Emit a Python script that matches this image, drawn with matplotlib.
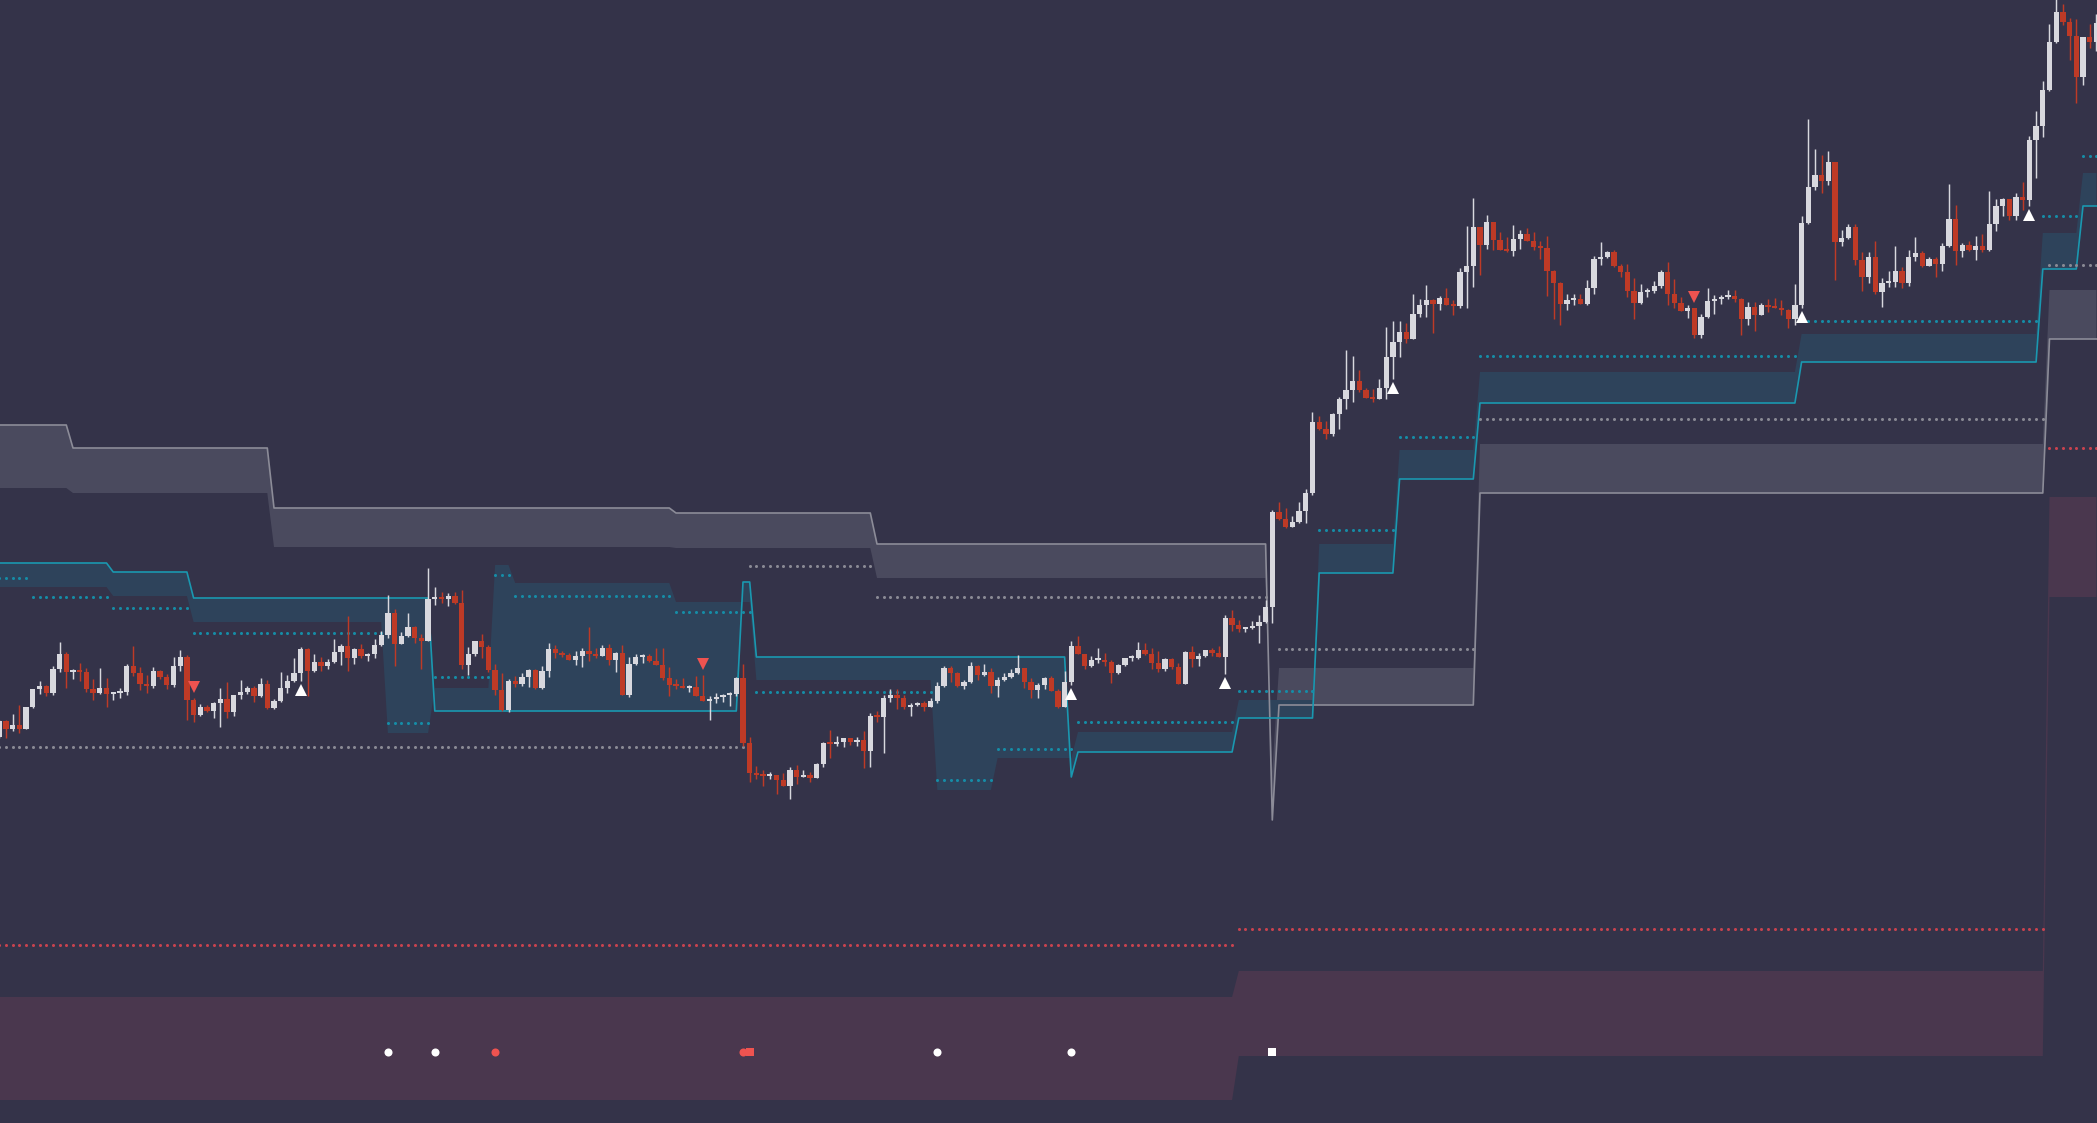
import numpy as np
import matplotlib.pyplot as plt

# candle data (open of each candle = previous close)
open0 = 38.6
close_ = [40.2, 39.4, 39.8, 39.4, 41.6, 43.4, 43.7, 43.0, 45.4, 46.9,
          45.1, 45.3, 45.1, 43.4, 43.0, 43.5, 42.9, 43.0, 43.1, 45.7,
          45.0, 43.9, 43.7, 45.2, 44.6, 43.8, 45.7, 46.6, 42.3, 40.8,
          41.6, 41.2, 42.0, 42.4, 41.1, 42.8, 43.1, 43.5, 42.7, 43.9,
          41.5, 42.2, 43.5, 44.2, 45.0, 47.4, 45.2, 46.1, 45.7, 46.1,
          47.1, 47.7, 46.5, 47.4, 46.7, 46.9, 47.8, 48.8, 51.0, 47.9,
          48.7, 49.6, 48.5, 48.2, 52.4, 52.5, 52.4, 52.7, 52.0, 45.8,
          46.9, 48.2, 47.6, 45.3, 43.3, 41.3, 44.2, 43.9, 44.6, 45.3,
          43.5, 45.2, 47.4, 47.0, 46.8, 46.3, 46.7, 47.2, 46.9, 46.7,
          47.5, 46.3, 47.0, 42.8, 45.9, 46.6, 46.7, 46.2, 45.8, 44.5,
          43.8, 43.7, 43.5, 43.6, 42.7, 42.2, 42.4, 42.6, 42.8, 42.9,
          44.5, 38.0, 35.0, 34.8, 34.7, 34.8, 34.3, 33.7, 35.3, 34.6,
          34.8, 34.5, 35.9, 38.0, 37.9, 38.1, 38.5, 38.1, 38.3, 37.2,
          40.7, 40.6, 42.5, 42.8, 42.5, 41.6, 41.8, 42.0, 41.6, 42.2,
          43.7, 45.5, 45.0, 43.7, 44.1, 45.7, 44.8, 45.1, 43.7, 44.3,
          44.6, 45.0, 45.5, 44.1, 43.3, 43.8, 44.5, 43.2, 41.6, 44.1,
          47.7, 46.9, 45.7, 46.3, 46.3, 46.1, 45.0, 45.8, 46.5, 46.5,
          47.3, 46.9, 46.0, 45.4, 46.4, 45.6, 43.9, 47.1, 46.4, 46.7,
          47.3, 47.0, 46.6, 50.5, 49.8, 49.4, 49.5, 49.7, 50.1, 51.6,
          61.1, 60.4, 59.6, 60.1, 61.2, 63.0, 70.1, 69.4, 68.9, 70.9,
          72.4, 73.3, 74.2, 73.3, 72.5, 72.4, 73.5, 76.6, 78.1, 79.1,
          78.4, 80.9, 81.8, 82.3, 81.9, 82.5, 81.8, 81.7, 85.1, 85.7,
          89.6, 87.8, 90.1, 88.3, 87.3, 87.2, 88.4, 88.9, 88.2, 87.6,
          87.5, 85.2, 84.0, 81.9, 82.3, 82.4, 81.9, 83.5, 86.4, 86.6,
          87.1, 85.7, 85.1, 83.2, 82.0, 83.1, 83.2, 83.7, 85.1, 82.9,
          82.0, 81.2, 81.5, 78.8, 80.6, 82.2, 82.4, 82.6, 82.7, 82.4,
          80.4, 81.6, 80.8, 81.8, 81.6, 81.5, 81.3, 80.4, 81.8, 90.0,
          93.6, 94.8, 94.2, 96.1, 88.1, 88.5, 89.6, 86.3, 84.6, 86.6,
          83.1, 84.0, 84.1, 85.2, 84.0, 86.6, 87.0, 85.7, 86.4, 85.9,
          87.7, 90.4, 87.2, 87.8, 87.3, 87.7, 87.3, 89.9, 91.7, 92.4,
          90.7, 92.6, 92.3, 98.3, 99.7, 103.3, 108.1, 111.1, 110.1, 108.7,
          104.6, 108.6, 108.1, 110.0]
high_ = [40.3, 40.3, 40.9, 41.8, 41.6, 43.4, 44.2, 43.8, 45.7, 48.1,
         47.1, 45.4, 46.0, 45.5, 44.4, 45.5, 44.5, 43.1, 43.5, 45.9,
         47.7, 45.6, 44.8, 45.6, 45.3, 44.9, 46.6, 47.3, 46.8, 42.5,
         41.9, 41.8, 42.1, 43.5, 44.1, 42.8, 44.3, 43.7, 43.7, 44.5,
         44.3, 42.4, 45.1, 44.8, 46.5, 47.6, 47.5, 46.9, 46.6, 46.4,
         48.4, 47.9, 50.7, 47.5, 47.9, 47.0, 48.4, 49.2, 52.8, 51.4,
         49.1, 51.0, 49.7, 48.9, 55.5, 53.6, 53.1, 53.0, 53.1, 53.3,
         47.6, 48.2, 48.9, 47.8, 45.9, 45.0, 44.4, 44.7, 45.0, 45.4,
         45.4, 45.7, 48.0, 47.8, 47.2, 47.0, 47.2, 47.5, 49.6, 47.5,
         47.8, 47.9, 47.1, 47.8, 46.6, 46.9, 46.9, 46.9, 47.5, 47.5,
         45.6, 44.4, 44.5, 43.8, 44.7, 44.8, 42.7, 43.0, 42.9, 43.1,
         44.6, 45.9, 38.6, 35.7, 35.3, 35.1, 34.8, 35.0, 35.6, 35.8,
         35.3, 35.1, 36.0, 38.1, 39.3, 38.7, 38.5, 38.5, 38.6, 39.2,
         41.0, 41.2, 42.8, 43.4, 43.4, 42.8, 42.0, 42.1, 42.2, 42.5,
         44.1, 45.7, 45.7, 45.1, 44.3, 46.1, 45.8, 45.9, 45.5, 44.6,
         45.0, 45.4, 46.8, 45.5, 44.5, 44.0, 44.6, 44.7, 43.4, 45.2,
         48.2, 48.7, 46.9, 46.7, 47.5, 47.0, 46.3, 45.9, 46.5, 46.8,
         48.1, 48.0, 47.5, 47.2, 46.5, 46.5, 46.0, 47.2, 47.7, 47.0,
         47.3, 47.5, 47.7, 50.8, 51.3, 50.3, 49.6, 50.2, 50.8, 52.3,
         61.3, 62.1, 61.5, 60.7, 62.1, 63.4, 71.1, 70.7, 70.2, 71.0,
         72.6, 77.3, 76.7, 75.3, 73.5, 73.4, 74.4, 79.6, 80.2, 80.2,
         80.0, 82.9, 82.4, 83.8, 82.4, 82.7, 83.5, 82.3, 85.5, 89.7,
         92.5, 89.6, 90.8, 90.1, 89.1, 88.6, 89.8, 89.3, 89.5, 89.1,
         88.2, 88.7, 85.3, 84.1, 82.9, 82.9, 82.9, 84.3, 86.7, 88.1,
         87.2, 87.3, 85.9, 85.9, 84.5, 83.9, 83.5, 84.2, 85.3, 86.1,
         84.4, 82.6, 81.8, 81.5, 80.9, 83.5, 82.8, 82.8, 83.3, 83.3,
         82.5, 82.1, 82.1, 82.0, 82.4, 82.5, 82.3, 81.4, 83.9, 90.7,
         100.4, 97.4, 96.8, 97.2, 96.1, 89.3, 89.9, 89.9, 87.1, 87.1,
         88.2, 84.5, 85.2, 87.7, 85.6, 87.3, 88.6, 87.2, 86.6, 86.6,
         88.0, 93.9, 91.8, 88.0, 88.2, 88.7, 88.9, 93.2, 92.4, 92.5,
         92.4, 93.0, 94.1, 98.7, 101.2, 104.2, 109.9, 112.4, 111.9, 110.5,
         110.4, 108.6, 109.9, 110.9]
low_ = [38.5, 38.5, 39.2, 39.0, 39.4, 41.5, 42.9, 42.7, 42.8, 45.1,
        43.5, 44.4, 44.2, 43.1, 42.3, 42.9, 41.6, 42.3, 42.5, 42.8,
        44.7, 43.3, 43.0, 43.5, 44.4, 43.4, 43.6, 45.2, 40.3, 40.1,
        40.7, 41.1, 40.5, 39.6, 40.5, 40.7, 42.4, 42.9, 42.1, 42.6,
        41.4, 41.4, 42.1, 43.0, 44.1, 44.2, 42.7, 45.1, 45.2, 45.4,
        46.0, 45.8, 45.2, 45.9, 46.5, 46.2, 46.5, 47.7, 48.5, 45.7,
        47.9, 48.6, 48.0, 45.4, 48.2, 51.8, 52.0, 51.7, 51.9, 45.4,
        44.8, 46.7, 46.5, 45.1, 42.8, 41.2, 41.1, 43.6, 43.7, 43.6,
        43.4, 43.4, 44.6, 46.5, 46.6, 46.3, 45.8, 45.6, 46.2, 46.5,
        46.7, 45.8, 45.1, 42.8, 42.6, 45.8, 46.0, 46.1, 45.8, 44.3,
        42.7, 43.4, 43.5, 43.1, 42.7, 42.2, 40.3, 42.0, 42.1, 41.7,
        42.7, 37.7, 34.1, 34.4, 33.7, 34.4, 32.9, 33.7, 32.4, 33.9,
        34.7, 34.1, 34.5, 35.6, 36.5, 37.7, 37.6, 37.8, 37.7, 35.5,
        35.6, 40.1, 37.0, 42.1, 41.4, 41.4, 40.7, 41.7, 41.2, 41.6,
        42.0, 43.6, 44.1, 43.6, 43.4, 44.0, 44.3, 44.7, 43.0, 42.6,
        44.2, 44.5, 44.9, 43.5, 42.5, 42.5, 43.4, 43.2, 41.5, 41.6,
        43.8, 46.9, 45.4, 45.6, 46.0, 45.7, 44.0, 44.9, 45.7, 46.2,
        46.4, 46.8, 45.4, 45.1, 45.2, 45.4, 43.9, 43.9, 45.6, 45.7,
        46.6, 46.7, 46.6, 44.9, 49.2, 49.1, 49.1, 49.4, 48.0, 50.0,
        50.0, 60.3, 59.5, 59.6, 60.0, 60.0, 62.8, 69.3, 68.4, 68.7,
        69.4, 71.4, 72.1, 73.1, 72.5, 72.1, 72.5, 72.4, 74.4, 76.6,
        78.0, 78.4, 80.6, 80.6, 79.0, 81.3, 81.8, 80.8, 81.5, 81.5,
        83.6, 84.8, 87.4, 87.3, 87.3, 87.1, 86.7, 87.4, 88.2, 87.3,
        86.4, 82.7, 80.4, 79.8, 81.3, 81.8, 81.9, 81.8, 82.9, 85.8,
        86.5, 85.6, 84.6, 82.6, 80.4, 81.9, 82.6, 83.0, 83.5, 81.8,
        81.5, 81.2, 80.5, 78.5, 78.5, 80.5, 80.9, 81.9, 82.4, 82.1,
        78.8, 79.8, 79.2, 80.8, 81.1, 81.5, 80.8, 79.5, 79.8, 81.5,
        89.9, 93.3, 93.0, 93.8, 84.3, 87.7, 88.4, 85.8, 83.2, 84.0,
        82.9, 81.6, 83.6, 83.6, 83.5, 83.7, 86.2, 85.6, 85.7, 84.6,
        85.2, 87.6, 85.8, 86.6, 87.2, 86.3, 87.1, 87.2, 89.2, 90.7,
        90.3, 90.3, 91.3, 91.7, 94.5, 98.6, 103.2, 108.0, 109.8, 106.3,
        102.0, 103.8, 107.5, 107.2]

# upper zone (grey): first candle of each step, line level, other edge
gray_start = [0, 11, 41, 101, 131, 190, 191, 221, 306]
gray_line = [69.8, 67.5, 61.5, 61.0, 57.9, 30.3, 41.8, 63.0, 78.4]
gray_edge = [63.5, 63.0, 57.6, 57.5, 54.5, 35.2, 45.5, 67.9, 83.3]

# teal zone
teal_start = [0, 17, 29, 58, 65, 74, 77, 101, 111, 113, 140, 149, 160, 161,
              185, 197, 209, 221, 269, 305, 311]
teal_line = [56.0, 55.1, 52.5, 52.5, 41.2, 41.2, 41.2, 41.2, 54.1, 46.6, 46.6,
             46.6, 34.6, 37.1, 40.5, 55.0, 64.4, 72.0, 76.1, 85.4, 91.7]
teal_edge = [53.6, 52.7, 50.1, 39.0, 43.5, 55.8, 54.0, 52.1, 52.1, 44.3, 33.3,
             36.5, 36.5, 39.1, 42.3, 57.9, 67.3, 75.1, 78.9, 89.0, 95.0]

# lower zone (maroon)
maroon_start = [0, 185, 306]
maroon_top = [12.6, 15.2, 62.6]
maroon_bottom = [2.3, 6.7, 52.6]

# dotted levels: first candle, last candle, level
tdot_start = [0, 5, 17, 29, 58, 65, 74, 77, 101, 113, 140, 149, 161, 185, 197,
              209, 221, 269, 305, 311]
tdot_end = [4, 16, 28, 57, 64, 73, 76, 100, 112, 139, 148, 160, 184, 196, 208,
            220, 268, 304, 310, 313]
tdot_level = [54.5, 52.6, 51.5, 49.0, 40.0, 44.6, 54.8, 52.7, 51.1, 43.1, 34.3,
              37.4, 40.1, 43.2, 59.3, 68.6, 76.7, 80.2, 90.7, 96.7]
gdot_start = [0, 112, 131, 191, 221, 306]
gdot_end = [111, 130, 189, 220, 305, 313]
gdot_level = [37.6, 55.7, 52.6, 47.4, 70.4, 85.8]
rdot_start = [0, 185, 306]
rdot_end = [184, 305, 313]
rdot_level = [17.8, 19.4, 67.5]

# signals
sell_idx = [29, 105, 253]
sell_y = [43.6, 45.9, 82.6]
buy_idx = [45, 160, 183, 208, 269, 303]
buy_y = [43.3, 42.9, 44.0, 73.5, 80.6, 90.8]
dot_white_idx = [58, 65, 140, 160]
dot_red_idx = [74, 111]
sq_red_idx = [112]
sq_white_idx = [190]
bottom_y = 7.1

BG = '#343349'
UP = '#d8d8de'
DOWN = '#be3a26'


def steps(starts, values, n):
    bounds = list(starts) + [n]
    return np.concatenate([np.full(bounds[k + 1] - bounds[k], v)
                           for k, v in enumerate(values)])


close_ = np.array(close_)
n = len(close_)
idx = np.arange(n)
opens = np.concatenate([[open0], close_[:-1]])

fig = plt.figure(figsize=(20.97, 11.23), dpi=100, facecolor=BG)
ax = fig.add_axes([0, 0, 1, 1])
ax.set_facecolor(BG)

# zones
ax.fill_between(idx, steps(maroon_start, maroon_top, n), steps(maroon_start, maroon_bottom, n),
                color='#4a374e', lw=0, zorder=1)
gl = steps(gray_start, gray_line, n)
ax.fill_between(idx, gl, steps(gray_start, gray_edge, n), color='#4a4a5e', lw=0, zorder=1.2)
ax.plot(idx, gl, color='#8c8c98', lw=1.2, zorder=2)
tl = steps(teal_start, teal_line, n)
ax.fill_between(idx, tl, steps(teal_start, teal_edge, n), color='#2e435b', lw=0, zorder=1.4)
ax.plot(idx, tl, color='#1a98b0', lw=1.2, zorder=2.1)

# dotted levels
for starts, ends, levels, col in [(tdot_start, tdot_end, tdot_level, '#168ca6'),
                                  (gdot_start, gdot_end, gdot_level, '#8a8a94'),
                                  (rdot_start, rdot_end, rdot_level, '#c8434f')]:
    for s, e, v in zip(starts, ends, levels):
        xs = np.arange(s, e + 1)
        ax.plot(xs, np.full(len(xs), v), ls='none', marker='o', ms=2.2, mew=0,
                color=col, zorder=3)

# candles
up = close_ >= opens
colors = np.where(up, UP, DOWN)
body_lo = np.minimum(opens, close_)
body_h = np.maximum(np.abs(close_ - opens), 0.22)
wick_lo = np.minimum(low_, body_lo)
wick_hi = np.maximum(high_, body_lo + body_h)
ax.vlines(idx, wick_lo, wick_hi, colors=colors, lw=1.05, zorder=3.9)
ax.bar(idx, body_h, bottom=body_lo, width=0.78, color=colors, lw=0, zorder=4)

# signal markers
ax.plot(sell_idx, sell_y, ls='none', marker='v', ms=8.5, mew=0, color='#ef5350', zorder=5)
ax.plot(buy_idx, buy_y, ls='none', marker='^', ms=8.5, mew=0, color='white', zorder=5)
ax.plot(dot_white_idx, [bottom_y] * len(dot_white_idx), ls='none', marker='o', ms=5.8,
        mew=0, color='white', zorder=5)
ax.plot(dot_red_idx, [bottom_y] * len(dot_red_idx), ls='none', marker='o', ms=5.8,
        mew=0, color='#ef5350', zorder=5)
ax.plot(sq_red_idx, [bottom_y] * len(sq_red_idx), ls='none', marker='s', ms=6.2,
        mew=0, color='#ef5350', zorder=5)
ax.plot(sq_white_idx, [bottom_y] * len(sq_white_idx), ls='none', marker='s', ms=6.2,
        mew=0, color='white', zorder=5)

ax.set_xlim(0.104, 313.09)
ax.set_ylim(0, 112.3)
ax.axis('off')

fig.savefig('out.png', dpi=100, facecolor=BG)
